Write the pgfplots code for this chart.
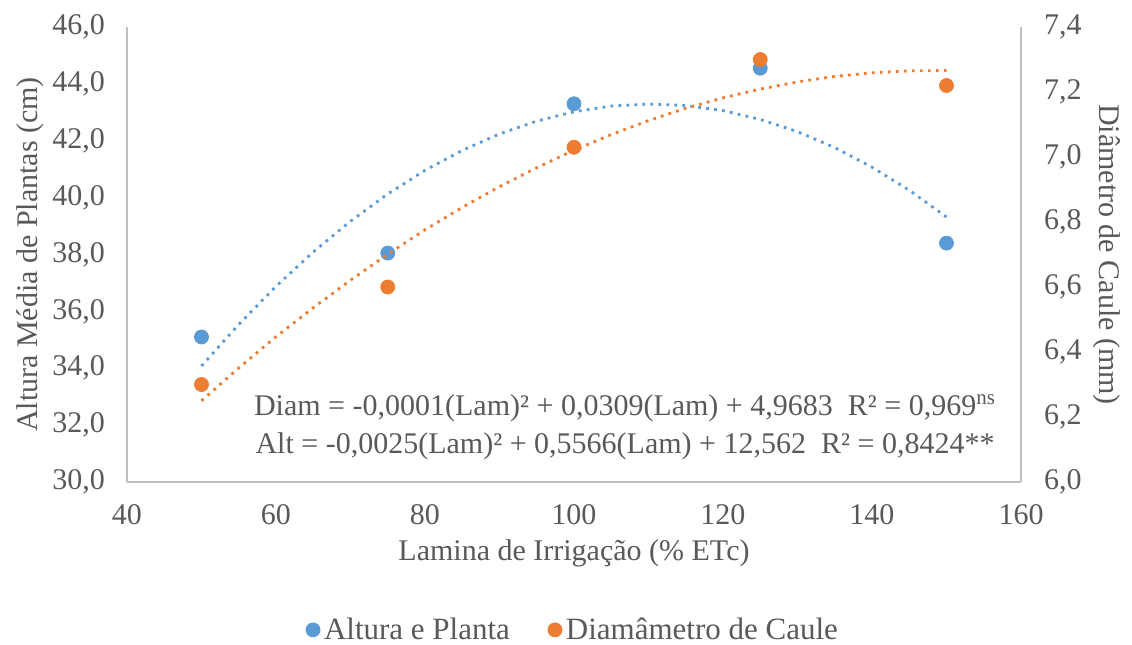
\documentclass[border=0pt]{standalone}
\usepackage{fontspec}
\setmainfont{Liberation Serif}
\usepackage{pgfplots}
\pgfplotsset{compat=1.18}
\definecolor{altblue}{HTML}{5B9BD5}
\definecolor{diaorange}{HTML}{ED7D31}
\definecolor{txtgray}{HTML}{595959}
\definecolor{linegray}{HTML}{BFBFBF}

\begin{document}
\begin{tikzpicture}[font=\fontsize{15}{18}\selectfont, text=txtgray]
\path[use as bounding box] (-63.5pt,-81pt) rectangle (502.5pt,241pt);
\pgfplotsset{
  common/.style={
    scale only axis, width=447pt, height=227.5pt,
    xmin=40, xmax=160,
    major tick length=0pt, tick style={draw=none},
    axis line style={draw=linegray, line width=0.75pt},
    /pgf/number format/assume math mode=true,
    tick label style={font=\fontsize{15}{18}\selectfont, text=txtgray},
    label style={font=\fontsize{15.5}{18}\selectfont, text=txtgray},
  },
  trend/.style={line width=1.4pt, dash pattern=on 1.4pt off 2.6pt, forget plot},
}
% eixo esquerdo: altura
\begin{axis}[common,
  axis x line*=bottom, axis y line*=left,
  ymin=30, ymax=46,
  xtick={40,60,...,160},
  ytick={30,32,...,46},
  xticklabel style={yshift=-7.5pt},
  yticklabel style={xshift=-7.5pt, /pgf/number format/.cd, fixed, fixed zerofill, precision=1, use comma},
  xlabel={Lamina de Irrigação (\% ETc)},
  ylabel={Altura Média de Plantas (cm)},
  every axis x label/.style={at={(axis description cs:0.5,-0.156)}, anchor=center},
  every axis y label/.style={at={(axis description cs:-0.1085,0.5)}, anchor=center, rotate=90},
]
\addplot[trend, altblue] coordinates {
  (50,34.08) (55,35.54) (60,36.88) (65,38.09) (70,39.17) (75,40.13)
  (80,40.96) (85,41.66) (90,42.24) (95,42.69) (100,43.02) (105,43.22)
  (110,43.29) (115,43.24) (120,43.06) (125,42.75) (130,42.32) (135,41.76)
  (140,41.07) (145,40.26) (150,39.32)
};
\addplot[only marks, mark=*, mark size=3.5pt, color=altblue, forget plot] coordinates {
  (50,35.1) (75,38.05) (100,43.3) (125,44.55) (150,38.4)
};
\node[anchor=center] at (axis cs:106.85,32.6)
  {Diam = -0,0001(Lam)² + 0,0309(Lam) + 4,9683\ \ R² = 0,969\textsuperscript{ns}};
\node[anchor=center] at (axis cs:106.85,31.27)
  {Alt = -0,0025(Lam)² + 0,5566(Lam) + 12,562\ \ R² = 0,8424**};
\end{axis}
% eixo direito: diametro
\begin{axis}[common,
  axis x line=none, axis y line*=right,
  ymin=6, ymax=7.4,
  ytick={6.0,6.2,6.4,6.6,6.8,7.0,7.2,7.4},
  yticklabel style={xshift=8pt, /pgf/number format/.cd, fixed, fixed zerofill, precision=1, use comma},
  ylabel={Diâmetro de Caule (mm)},
  every axis y label/.style={at={(axis description cs:1.0962,0.5)}, anchor=center, rotate=-90},
  legend style={at={(axis description cs:0.5,-0.325)}, anchor=center, draw=none, fill=none,
    font=\fontsize{15.5}{18}\selectfont, text=txtgray, legend columns=2,
    /tikz/every even column/.append style={column sep=17pt}},
  legend image code/.code={\draw[#1] plot coordinates {(0pt,0pt)};},
]
\addlegendimage{only marks, mark=*, mark size=3.5pt, color=altblue}
\addlegendentry{Altura e Planta}
\addplot[trend, diaorange] coordinates {
  (50,6.250) (55,6.351) (60,6.447) (65,6.536) (70,6.621) (75,6.701)
  (80,6.776) (85,6.845) (90,6.909) (95,6.967) (100,7.021) (105,7.069)
  (110,7.112) (115,7.150) (120,7.182) (125,7.209) (130,7.231) (135,7.248)
  (140,7.259) (145,7.265) (150,7.266)
};
\addplot[only marks, mark=*, mark size=3.5pt, color=diaorange] coordinates {
  (50,6.30) (75,6.60) (100,7.03) (125,7.30) (150,7.22)
};
\addlegendentry{Diamâmetro de Caule}
\end{axis}
\end{tikzpicture}
\end{document}
